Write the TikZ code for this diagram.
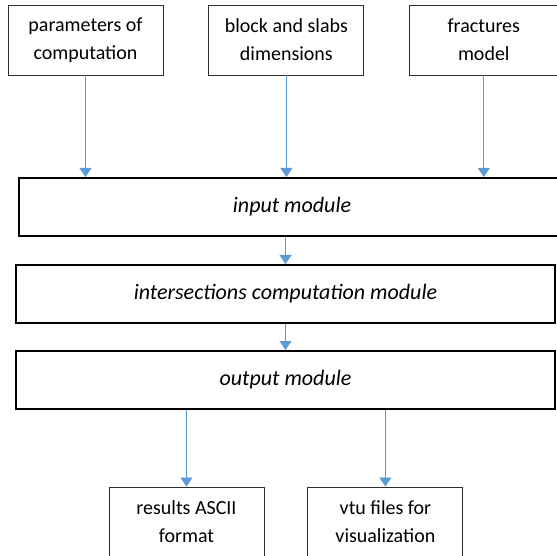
\documentclass[tikz,border=0pt]{standalone}
\usepackage{fontspec}
\setmainfont{Carlito}
\usepackage{tikz}
\usetikzlibrary{arrows.meta,positioning,calc}
\definecolor{ink}{HTML}{2E2E2E}
\definecolor{flow}{HTML}{5B9BD5}

\begin{document}
\begin{tikzpicture}[
  x=1pt,y=1pt,
  node distance=45pt,
  src/.style={draw=ink,line width=0.9pt,fill=white,minimum width=155pt,minimum height=70pt,align=center,font=\fontsize{20}{28}\selectfont,inner sep=2pt},
  mod/.style={draw=black,line width=2pt,fill=white,minimum width=539pt,minimum height=58pt,align=center,font=\fontsize{22}{26}\selectfont\itshape,inner sep=2pt},
  arr/.style={-{Triangle[length=9pt,width=12pt]},line width=0.8pt,color=flow}
]
\useasboundingbox (0,0) rectangle (557,-556);
% sources
\node[src] (par) at (85.5,-40) {parameters of\\computation};
\node[src,right=45pt of par] (blk) {block and slabs\\dimensions};
\node[src,right=45pt of blk,minimum width=148pt] (frc) {fractures\\model};
% modules
\node[mod,minimum width=546pt] (inp) at (292,-207) {input module};
\node[mod] (isc) at (285.5,-294) {intersections computation module};
\node[mod] (out) at (285.5,-380) {output module};
% results
\node[src] (res) at (186.5,-522) {results ASCII\\format};
\node[src,right=43pt of res] (vtu) {vtu files for\\visualization};
\draw[arr] (par) -- (par |- inp.north);
\draw[arr] (blk) -- (blk |- inp.north);
\draw[arr] (frc) -- (frc |- inp.north);
\draw[arr] (inp.south -| isc.north) -- (isc);
\draw[arr] (isc) -- (out);
\draw[arr] (out.south -| res) -- (res);
\draw[arr] (out.south -| vtu) -- (vtu);
\end{tikzpicture}
\end{document}
